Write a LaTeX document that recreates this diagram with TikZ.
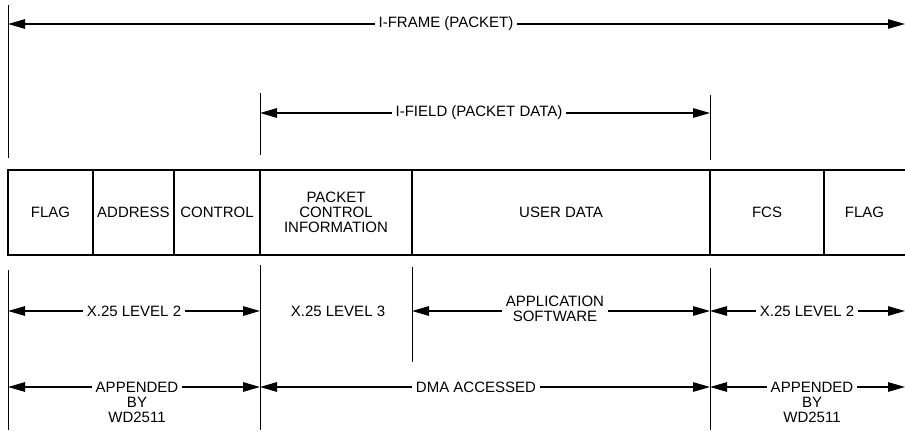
\documentclass[tikz,border=0pt]{standalone}
\usepackage{fontspec}
\setmainfont{Liberation Sans}
\usetikzlibrary{arrows.meta}
\newcommand\lblfont{\fontsize{15}{15}\selectfont}
\begin{document}
\begin{tikzpicture}[x=1pt,y=-1pt,
  extline/.style={line width=1pt},
  dimline/.style={line width=1.2pt,
    {Triangle[length=17pt,width=9.5pt]}-{Triangle[length=17pt,width=9.5pt]}},
  lbl/.style={fill=white, inner xsep=4pt, inner ysep=1pt, align=center, font=\lblfont},
  cell/.style={draw, line width=1.5pt, minimum height=85pt, inner sep=0pt,
    outer sep=0pt, align=center, font=\lblfont},
  opencell/.style={cell, draw=none}]
\useasboundingbox (0,0) rectangle (905,431);

% ---- frame dimension lines ----
\coordinate (fl0) at (8,5);    \coordinate (fl1) at (8,158);
\coordinate (fa0) at (8,24);   \coordinate (fa1) at (905,24);
\draw[extline] (fl0) -- (fl1);
\draw[dimline] (fa0) -- (fa1);
\node[lbl] (iframe) at (446,24) {I-FRAME (PACKET)};

\coordinate (il0) at (260,93);  \coordinate (il1) at (260,155);
\coordinate (ir0) at (710,95);  \coordinate (ir1) at (710,160);
\coordinate (ia0) at (260,113); \coordinate (ia1) at (710,113);
\draw[extline] (il0) -- (il1);
\draw[extline] (ir0) -- (ir1);
\draw[dimline] (ia0) -- (ia1);
\node[lbl] (ifield) at (479,113) {I-FIELD (PACKET DATA)};

% ---- the packet fields ----
\node[cell, minimum width=85pt]  (flagA) at (50.5,212.5) {FLAG};
\node[cell, minimum width=81pt]  (addr)  at (133.5,212.5) {ADDRESS};
\node[cell, minimum width=86pt]  (ctrl)  at (217,212.5) {CONTROL};
\node[cell, minimum width=152pt] (pci)   at (336,212.5) {PACKET\\CONTROL\\INFORMATION};
\node[cell, minimum width=298pt] (user)  at (561,212.5) {USER DATA};
\node[cell, minimum width=114pt] (fcs)   at (767,212.5) {FCS};
\node[opencell, minimum width=81pt] (flagB) at (864.5,212.5) {FLAG};
\draw[line width=1.5pt] (fcs.north east) -- (flagB.north east);
\draw[line width=1.5pt] (fcs.south east) -- (flagB.south east);

% ---- extension lines below the fields ----
\coordinate (b0t) at (8,270);   \coordinate (b0b) at (8,430);
\coordinate (b1t) at (260,265); \coordinate (b1b) at (260,430);
\coordinate (b2t) at (412,267); \coordinate (b2b) at (412,362);
\coordinate (b3t) at (710,268); \coordinate (b3b) at (710,430);
\draw[extline] (b0t) -- (b0b);
\draw[extline] (b1t) -- (b1b);
\draw[extline] (b2t) -- (b2b);
\draw[extline] (b3t) -- (b3b);

% ---- protocol levels ----
\coordinate (r1a) at (8,311);   \coordinate (r1b) at (260,311);
\coordinate (r1c) at (412,311); \coordinate (r1d) at (710,311);
\coordinate (r1e) at (905,311);
\draw[dimline] (r1a) -- (r1b);
\draw[dimline] (r1c) -- (r1d);
\draw[dimline] (r1d) -- (r1e);
\node[lbl] (lv2a) at (134,311) {X.25 LEVEL 2};
\node[lbl] (lv3)  at (338,311) {X.25 LEVEL 3};
\node[lbl] (apps) at (555,309) {APPLICATION\\SOFTWARE};
\node[lbl] (lv2b) at (807,311) {X.25 LEVEL 2};

% ---- access method ----
\coordinate (r2a) at (8,387);   \coordinate (r2b) at (260,387);
\coordinate (r2c) at (710,387); \coordinate (r2d) at (905,387);
\draw[dimline] (r2a) -- (r2b);
\draw[dimline] (r2b) -- (r2c);
\draw[dimline] (r2c) -- (r2d);
\node[lbl, anchor=base] (appA) at (137,422.5) {APPENDED\\BY\\WD2511};
\node[lbl] (dma) at (476,387) {DMA ACCESSED};
\node[lbl, anchor=base] (appB) at (812,422.5) {APPENDED\\BY\\WD2511};
\end{tikzpicture}
\end{document}
